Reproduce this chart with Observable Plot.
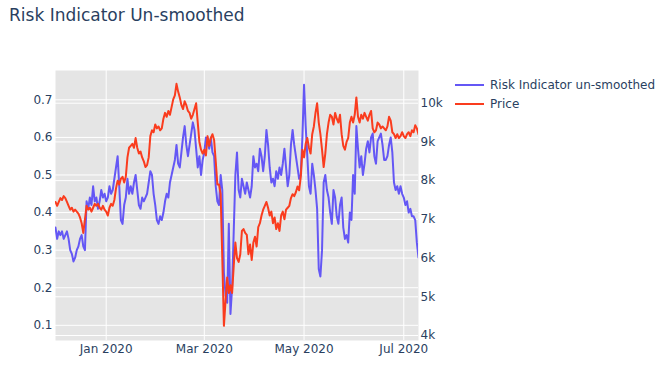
<!DOCTYPE html>
<html>
<head>
<meta charset="utf-8">
<script src="https://cdn.jsdelivr.net/npm/d3@7"></script>
<script src="https://cdn.jsdelivr.net/npm/@observablehq/plot@0.6"></script>
<style>
  html, body { margin: 0; padding: 0; background: #fff; }
  #wrap { position: relative; width: 663px; height: 366px; overflow: hidden; font-family: 'DejaVu Sans', Verdana, sans-serif; color: #2a3f5f; }
  #chart { position: absolute; left: 0; top: 0; }
  #title { position: absolute; left: 9px; top: 7px; font-size: 17px; line-height: 17px; white-space: nowrap; }
  #legend { position: absolute; left: 455px; top: 75.3px; font-size: 12px; }
  .row { display: flex; align-items: center; height: 19.3px; white-space: nowrap; }
  .sw { width: 29px; height: 2px; margin-right: 6px; }
</style>
</head>
<body>
<div id="wrap">
  <div id="chart"></div>
  <div id="title">Risk Indicator Un-smoothed</div>
  <div id="legend"></div>
</div>
<script>
// ---- data ----
const startDate = [2019, 11, 1]; // 1 Dec 2019, daily values
const seriesNames = ["Risk Indicator un-smoothed", "Price"];
const seriesColors = ["#6457f5", "#fa3c1e"];

const riskValues = [
  0.36,0.33,0.35,0.34,0.35,0.33,0.34,0.35,0.33,0.30,
  0.29,0.27,0.28,0.30,0.31,0.33,0.34,0.31,0.30,0.43,
  0.41,0.44,0.42,0.47,0.43,0.44,0.41,0.43,0.46,0.44,
  0.45,0.43,0.44,0.47,0.45,0.46,0.49,0.52,0.55,0.47,
  0.38,0.37,0.42,0.44,0.49,0.45,0.47,0.45,0.48,0.50,
  0.46,0.42,0.41,0.44,0.43,0.44,0.45,0.48,0.51,0.50,
  0.45,0.42,0.38,0.37,0.39,0.38,0.40,0.43,0.45,0.44,
  0.48,0.50,0.52,0.54,0.58,0.53,0.52,0.56,0.60,0.63,
  0.58,0.55,0.58,0.61,0.64,0.62,0.57,0.52,0.55,0.50,
  0.54,0.56,0.60,0.59,0.57,0.60,0.56,0.55,0.47,0.43,
  0.42,0.50,0.46,0.24,0.18,0.16,0.37,0.13,0.20,0.35,
  0.50,0.56,0.46,0.44,0.49,0.47,0.45,0.48,0.46,0.44,
  0.47,0.55,0.52,0.53,0.51,0.57,0.55,0.51,0.55,0.62,
  0.58,0.52,0.48,0.49,0.47,0.51,0.49,0.52,0.50,0.53,
  0.57,0.52,0.47,0.50,0.58,0.62,0.58,0.55,0.52,0.49,
  0.50,0.60,0.74,0.63,0.55,0.47,0.45,0.53,0.50,0.46,
  0.41,0.25,0.23,0.30,0.48,0.50,0.46,0.44,0.40,0.37,
  0.46,0.44,0.39,0.37,0.42,0.44,0.36,0.33,0.34,0.32,
  0.40,0.38,0.50,0.45,0.63,0.57,0.52,0.55,0.50,0.53,
  0.57,0.59,0.56,0.60,0.61,0.55,0.53,0.59,0.60,0.61,
  0.58,0.54,0.54,0.55,0.58,0.60,0.56,0.48,0.46,0.47,
  0.45,0.47,0.45,0.44,0.42,0.43,0.40,0.41,0.39,0.39,
  0.38,0.32,0.28
];

const priceValues = [
  7450,7350,7450,7550,7500,7600,7550,7450,7350,7250,
  7300,7200,7250,7200,7150,7050,6900,6650,7000,7350,
  7250,7300,7200,7300,7400,7350,7400,7300,7250,7350,
  7250,7200,7100,7300,7400,7350,7500,7800,8000,7900,
  8050,8100,7950,8100,8600,8850,8900,8950,8850,9100,
  8850,8700,8750,8600,8500,8350,8400,8600,9150,9300,
  9250,9450,9350,9400,9300,9350,9600,9750,9650,9800,
  9700,9900,10100,10200,10500,10300,10150,9950,9850,10050,
  9950,9800,9750,9600,9700,9850,10000,9500,9000,8800,
  8700,8800,8650,9150,8900,9100,9200,9050,8500,7900,
  7900,7650,6000,4250,4900,5500,5100,5300,5100,5800,
  6400,6000,5900,6100,6700,6750,6650,6600,6100,6350,
  5950,6400,6550,6300,6800,6900,7100,7250,7350,7450,
  7300,7100,7200,6900,7050,6750,6900,6700,7100,7200,
  7000,7250,7300,7350,7550,7650,7600,7700,7850,7750,
  8100,8800,8600,8950,9100,8850,8700,9200,9400,9750,
  10000,9500,9200,8800,8350,8700,9200,9500,9700,9650,
  9450,9750,9600,9500,9700,9200,8900,8800,9000,9100,
  9500,9650,9500,9700,10150,9650,9500,9700,9600,9750,
  9650,9550,9700,9800,9350,9250,9300,9500,9450,9350,
  9400,9350,9300,9400,9650,9550,9250,9200,9100,9200,
  9100,9150,9250,9150,9100,9200,9250,9150,9300,9250,
  9430,9350,9200
];

const xTickDates = ["2020-01-01", "2020-03-01", "2020-05-01", "2020-07-01"];
const xTickLabels = ["Jan 2020", "Mar 2020", "May 2020", "Jul 2020"];
const leftTickValues = [0.1, 0.2, 0.3, 0.4, 0.5, 0.6, 0.7];
const leftTickLabels = ["0.1", "0.2", "0.3", "0.4", "0.5", "0.6", "0.7"];
const rightTickValues = [4000, 5000, 6000, 7000, 8000, 9000, 10000];
const rightTickLabels = ["4k", "5k", "6k", "7k", "8k", "9k", "10k"];
const riskDomain = [0.0596, 0.778];
const priceDomain = [3871, 10845];

// ---- build ----
const toRisk = p => riskDomain[0] + (p - priceDomain[0]) / (priceDomain[1] - priceDomain[0]) * (riskDomain[1] - riskDomain[0]);
const fromRisk = r => priceDomain[0] + (r - riskDomain[0]) / (riskDomain[1] - riskDomain[0]) * (priceDomain[1] - priceDomain[0]);

const dates = riskValues.map((_, i) => new Date(Date.UTC(startDate[0], startDate[1], startDate[2] + i)));
const riskData = dates.map((d, i) => ({ date: d, v: riskValues[i] }));
const priceData = dates.map((d, i) => ({ date: d, v: toRisk(priceValues[i]) }));
const xTicks = xTickDates.map(s => new Date(s + "T00:00:00Z"));
const rightTicksMapped = rightTickValues.map(toRisk);

const chart = Plot.plot({
  width: 663,
  height: 366,
  marginLeft: 55,
  marginRight: 245,
  marginTop: 70,
  marginBottom: 26,
  style: { fontFamily: "'DejaVu Sans', Verdana, sans-serif", fontSize: "12px", color: "#2a3f5f", background: "transparent" },
  x: { type: "utc", domain: [dates[0], dates[dates.length - 1]] },
  y: { domain: riskDomain },
  marks: [
    Plot.frame({ fill: "#e5e5e5", stroke: "none" }),
    Plot.ruleY(leftTickValues, { stroke: "#ffffff", strokeWidth: 1 }),
    Plot.ruleY(rightTicksMapped, { stroke: "#ffffff", strokeWidth: 1 }),
    Plot.ruleX(xTicks, { stroke: "#ffffff", strokeWidth: 1 }),
    Plot.axisX(xTicks, {
      tickSize: 0, tickPadding: 4, label: null,
      tickFormat: d => xTickLabels[xTicks.findIndex(t => +t === +d)]
    }),
    Plot.axisY(leftTickValues, {
      anchor: "left", tickSize: 0, tickPadding: 3, label: null,
      tickFormat: v => leftTickLabels[leftTickValues.indexOf(v)]
    }),
    Plot.axisY(rightTicksMapped, {
      anchor: "right", tickSize: 0, tickPadding: 2, label: null,
      tickFormat: v => rightTickLabels[rightTickValues.indexOf(Math.round(fromRisk(v)))]
    }),
    Plot.lineY(riskData, { x: "date", y: "v", stroke: seriesColors[0], strokeWidth: 2, clip: true }),
    Plot.lineY(priceData, { x: "date", y: "v", stroke: seriesColors[1], strokeWidth: 2, clip: true })
  ]
});
document.getElementById("chart").appendChild(chart);

const legend = document.getElementById("legend");
seriesNames.forEach((name, i) => {
  const row = document.createElement("div");
  row.className = "row";
  const sw = document.createElement("div");
  sw.className = "sw";
  sw.style.background = seriesColors[i];
  const tx = document.createElement("span");
  tx.textContent = name;
  row.appendChild(sw);
  row.appendChild(tx);
  legend.appendChild(row);
});
</script>
</body>
</html>
